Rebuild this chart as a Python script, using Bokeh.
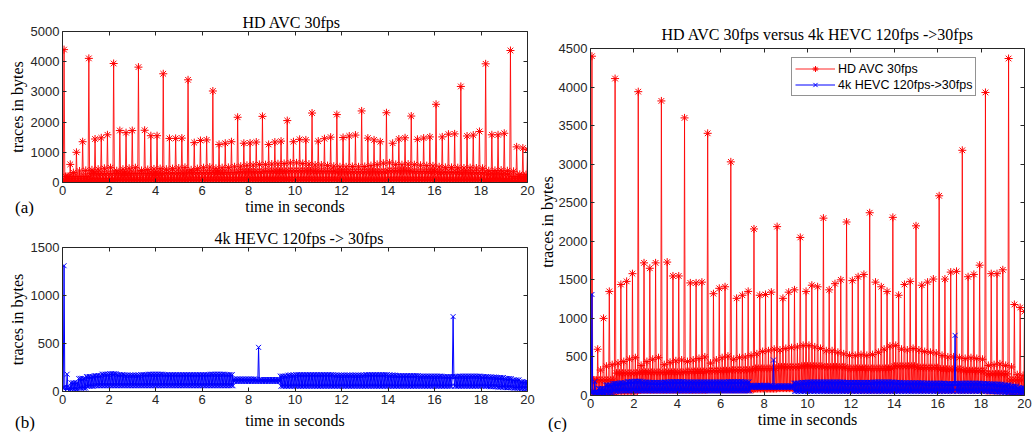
import numpy as np
from bokeh.plotting import figure
from bokeh.models import Range1d, LinearAxis, FixedTicker, Legend, LegendItem, Div
from bokeh.layouts import row, column
from bokeh.embed import file_html
from bokeh.resources import INLINE

# ---------------- data ----------------
FPS = 30
N_FRAMES = 600
SEG = 8          # frames per P segment
SEGS_PER_GOP = 4

x_ticks = [0, 2, 4, 6, 8, 10, 12, 14, 16, 18, 20]
ya_ticks = [0, 1000, 2000, 3000, 4000, 5000]
yb_ticks = [0, 500, 1000, 1500]
yc_ticks = [0, 500, 1000, 1500, 2000, 2500, 3000, 3500, 4000, 4500]

avc_first_frame = 30
avc_i_frames = [4400, 4110, 3940, 3820, 3600, 3400, 3030, 2160, 2190, 2050,
                2300, 2250, 2370, 2310, 2200, 2590, 3180, 3930, 4370]
avc_p_frames = [600, 1000, 1350, 1440, 1480, 1580, 1720, 1650, 1720,
                1730, 1550, 1550, 1460, 1460, 1470, 1320, 1390, 1410,
                1260, 1300, 1350, 1300, 1310, 1340, 1260, 1340, 1370,
                1350, 1430, 1410, 1370, 1450, 1500, 1490, 1540, 1570,
                1470, 1410, 1350, 1300, 1440, 1480, 1430, 1470, 1510,
                1510, 1600, 1610, 1540, 1570, 1690, 1580, 1580, 1630,
                1180, 1140]
avc_last_frame = 1090
avc_b4 = [200, 330, 380, 400, 420, 440, 470, 490, 390, 440, 470, 490, 400, 430, 450,
          460, 440, 460, 480, 500, 420, 460, 490, 510, 470, 490, 500, 520, 540, 570,
          580, 600, 590, 610, 620, 630, 650, 650, 630, 610, 580, 580, 560, 540, 520,
          520, 530, 520, 530, 560, 600, 640, 650, 600, 590, 610, 590, 570, 560, 550,
          520, 500, 500, 490, 480, 490, 480, 470, 390, 400, 410, 390, 370, 270, 260]
avc_b2 = [200, 290, 300, 300, 310, 320, 330, 350, 370, 380,
          370, 350, 350, 380, 360, 340, 320, 280, 200]
avc_b1 = [40, 60, 75, 75, 75, 80, 80, 90, 95, 85,
          80, 75, 75, 80, 80, 75, 75, 65, 45]

hevc_hi = [40, 90, 135, 155, 165, 180, 185, 175, 170, 170,
           175, 180, 180, 175, 175, 175, 175, 175, 175, 180,
           180, 175, 130, 130, 130, 125, 125, 125, 160, 170,
           175, 175, 175, 175, 175, 170, 170, 170, 170, 175,
           175, 175, 170, 165, 165, 165, 160, 160, 160, 155,
           155, 160, 160, 160, 155, 150, 145, 135, 120, 100]
hevc_lo = [10, 20, 35, 55, 60, 60, 60, 60, 60, 60,
           60, 60, 60, 60, 60, 60, 60, 60, 60, 60,
           60, 60, 105, 105, 105, 105, 105, 105, 55, 55,
           55, 55, 55, 55, 55, 55, 55, 55, 55, 55,
           55, 55, 55, 55, 55, 55, 55, 55, 55, 55,
           55, 55, 55, 55, 55, 50, 45, 40, 35, 30]
HEVC_BIN = 10
hevc_spike_frames = [1, 5, 252, 503]
hevc_spike_bytes = [1310, 180, 460, 780]

# ---------------- build frame series ----------------
t = (np.arange(N_FRAMES) + 1) / FPS

avc = np.zeros(N_FRAMES)
avc[0] = avc_first_frame
p_iter = iter(avc_p_frames)
for s in range(len(avc_b4)):
    a = 1 + SEG * s
    g = s // SEGS_PER_GOP
    avc[a] = avc_i_frames[g] if s % SEGS_PER_GOP == 0 else next(p_iter)
    for off in range(1, SEG):
        f = a + off
        if f >= N_FRAMES:
            break
        if off == 4:
            avc[f] = avc_b4[s]
        elif off in (2, 6):
            avc[f] = avc_b2[g]
        else:
            avc[f] = avc_b1[g]
avc[-1] = avc_last_frame

hevc = np.zeros(N_FRAMES)
for f in range(N_FRAMES):
    k = f // HEVC_BIN
    hevc[f] = hevc_hi[k] if f % 2 == 0 else hevc_lo[k]
for f, v in zip(hevc_spike_frames, hevc_spike_bytes):
    hevc[f] = v

# ---------------- styling helpers ----------------
SERIF = "Liberation Serif"
SANS = "Liberation Sans"
AX = "#262626"
RED = "#ff0000"
BLUE = "#0000ff"


def style_axis(ax, show_labels=True):
    ax.major_tick_in = 4
    ax.major_tick_out = 0
    ax.minor_tick_line_color = None
    ax.axis_line_color = AX
    ax.major_tick_line_color = AX
    ax.major_label_text_font = SANS
    if show_labels:
        ax.major_label_text_font_size = "13px"
        ax.major_label_text_color = AX
        ax.major_label_standoff = 3
    else:
        ax.major_label_text_font_size = "1px"
        ax.major_label_text_color = None
        ax.major_label_standoff = 0
    ax.axis_label_text_font = SERIF
    ax.axis_label_text_font_size = "16px"
    ax.axis_label_text_font_style = "normal"
    ax.axis_label_text_color = "black"


def make_fig(w, h, ymax, yticks, title, borders, title_offset, title_standoff,
             xlab_standoff, ylab_standoff):
    p = figure(width=w, height=h, output_backend="svg", toolbar_location=None,
               x_range=Range1d(0, 20), y_range=Range1d(0, ymax),
               min_border_left=borders[0], min_border_right=borders[1],
               min_border_top=borders[2], min_border_bottom=borders[3])
    p.outline_line_color = None
    p.grid.visible = False
    p.background_fill_color = "white"
    p.border_fill_color = "white"
    p.xaxis.ticker = FixedTicker(ticks=x_ticks)
    p.yaxis.ticker = FixedTicker(ticks=yticks)
    for ax in p.xaxis + p.yaxis:
        style_axis(ax)
    p.xaxis.axis_label = "time in seconds"
    p.yaxis.axis_label = "traces in bytes"
    p.xaxis.axis_label_standoff = xlab_standoff
    p.yaxis.axis_label_standoff = ylab_standoff
    top = LinearAxis(ticker=FixedTicker(ticks=x_ticks))
    right = LinearAxis(ticker=FixedTicker(ticks=yticks))
    style_axis(top, False)
    style_axis(right, False)
    p.add_layout(top, "above")
    p.add_layout(right, "right")
    p.title.text = title
    p.title.align = "left"
    p.title.text_font = SERIF
    p.title.text_font_size = "16px"
    p.title.text_font_style = "normal"
    p.title.text_color = "black"
    p.title.offset = title_offset
    p.title.standoff = title_standoff
    return p


def add_avc(p):
    ln = p.line(t, avc, line_color=RED, line_width=1, line_alpha=0.85)
    sc = p.scatter(t, avc, marker="asterisk", size=8, line_color=RED, line_width=1)
    return ln, sc


def add_hevc(p):
    ln = p.line(t, hevc, line_color=BLUE, line_width=1)
    sc = p.scatter(t, hevc, marker="x", size=7, line_color=BLUE, line_width=1)
    return ln, sc


def panel_letter(text, left, top):
    return Div(text=text, width=24, height=20,
               styles={"position": "absolute", "left": f"{left}px", "top": f"{top}px",
                       "font-family": SERIF, "font-size": "17px", "line-height": "17px",
                       "color": "black", "margin": "0", "padding": "0"})


# panel (a)
pa = make_fig(535, 220, 5000, ya_ticks, "HD AVC 30fps", (62, 8, 31, 38), 180, 2, 0, 2)
add_avc(pa)

# panel (b)
pb = make_fig(535, 212, 1500, yb_ticks, "4k HEVC 120fps -> 30fps", (62, 8, 27, 41), 152, 2, 5, 2)
add_hevc(pb)

# panel (c)
pc = make_fig(497, 432, 4500, yc_ticks, "HD AVC 30fps versus 4k HEVC 120fps ->30fps",
              (52, 8, 48, 37), 71, 12, 0, 0)
ra = add_avc(pc)
rb = add_hevc(pc)
legend = Legend(items=[LegendItem(label="HD AVC 30fps", renderers=list(ra)),
                       LegendItem(label="4k HEVC 120fps->30fps", renderers=list(rb))],
                location=(201, 299), orientation="vertical")
legend.label_text_font = SANS
legend.label_text_font_size = "12.5px"
legend.label_text_color = "black"
legend.glyph_width = 40
legend.glyph_height = 15
legend.label_height = 15
legend.label_standoff = 3
legend.padding = 3
legend.spacing = 1
legend.margin = 0
legend.border_line_color = AX
legend.border_line_width = 1
legend.background_fill_color = "white"
legend.background_fill_alpha = 1
pc.add_layout(legend)

layout = row(column(pa, pb), pc,
             panel_letter("(a)", 15, 199),
             panel_letter("(b)", 15, 414),
             panel_letter("(c)", 548, 415))
open("out.html", "w").write(file_html(layout, INLINE))
